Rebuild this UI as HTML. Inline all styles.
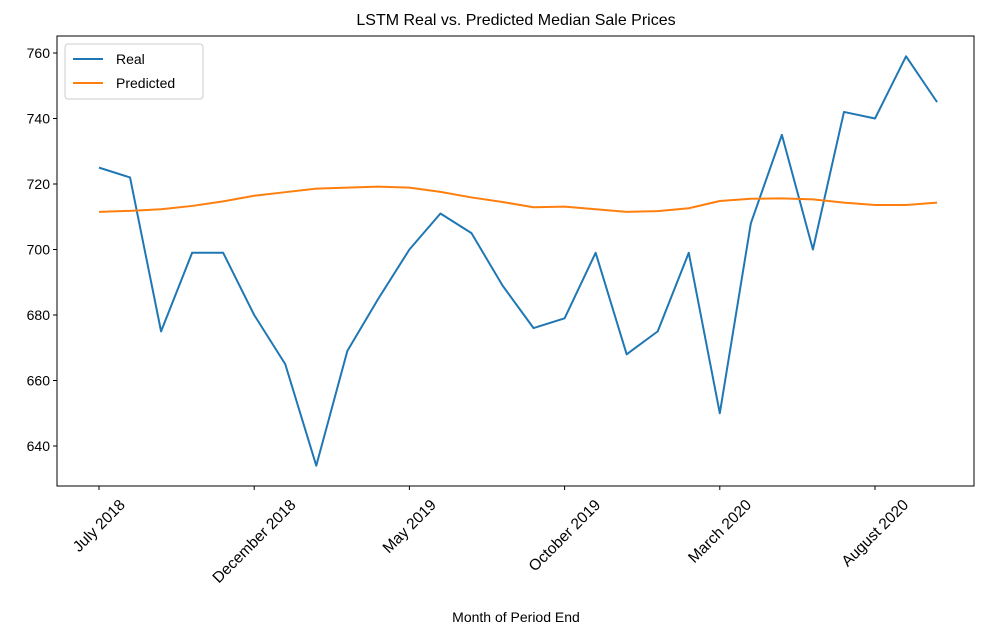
<!DOCTYPE html>
<html><head><meta charset="utf-8"><style>
body{margin:0;background:#fff;}
svg{font-family:"Liberation Sans","DejaVu Sans",sans-serif;}
</style></head><body>
<svg id="chart" width="994" height="633">
<text x="516" y="25" text-anchor="middle" font-size="16" fill="#000">LSTM Real vs. Predicted Median Sale Prices</text>
<g id="grid"></g>
<rect x="57" y="36" width="917" height="450" fill="none" stroke="#000" stroke-width="1"/>
<g id="series"></g>
<text x="516" y="622" text-anchor="middle" font-size="14" fill="#000">Month of Period End</text>
<g>
<rect x="65" y="44" width="138" height="55" rx="3" fill="#fff" stroke="#ccc"/>
<line x1="73" y1="59" x2="103" y2="59" stroke="#1f77b4" stroke-width="2"/>
<text x="116" y="64" font-size="14">Real</text>
<line x1="73" y1="83" x2="103" y2="83" stroke="#ff7f0e" stroke-width="2"/>
<text x="116" y="88" font-size="14">Predicted</text>
</g>
</svg>
<script>
const realValues=[725,722,675,699,699,680,665,634,669,685,700,711,705,689,676,679,699,668,675,699,650,708,735,700,742,740,759,745];
const predictedValues=[711.5,711.8,712.3,713.3,714.7,716.4,717.5,718.6,718.9,719.2,718.9,717.6,715.9,714.5,712.9,713.1,712.3,711.5,711.7,712.6,714.8,715.5,715.6,715.3,714.3,713.6,713.6,714.3];
const yTicks=[640,660,680,700,720,740,760];
const xTickIndex=[0,5,10,15,20,25];
const xTickLabels=["July 2018","December 2018","May 2019","October 2019","March 2020","August 2020"];
const NS="http://www.w3.org/2000/svg";
function xs(i){return 99+i*31.04;}
function ys(v){return 446-(v-640)*(393/120);}
const g=document.getElementById('grid');
function mk(t,a,p){const e=document.createElementNS(NS,t);for(const k in a)e.setAttribute(k,a[k]);p.appendChild(e);return e;}
yTicks.forEach(v=>{
 const y=ys(v);
 const l=mk('line',{x1:53,x2:57,y1:y,y2:y,stroke:'#000'},g);
 
 
 const t=mk('text',{x:50,y:y+5,'text-anchor':'end','font-size':14},g);
 
 
 t.textContent=v;
});
xTickIndex.forEach((i,k)=>{
 const x=xs(i);
 const l=mk('line',{x1:x,x2:x,y1:486,y2:490,stroke:'#000'},g);
 
 
 const t=mk('text',{x:0,y:5,'text-anchor':'middle','font-size':15.5},g);
 
 
 t.textContent=xTickLabels[k];
 const w=t.getComputedTextLength();
 const half=(w+15)*0.7071/2;
 t.setAttribute('transform',`translate(${x},${497+half}) rotate(-45)`);
});
const s=document.getElementById('series');
function line(vals,color,name){
 const p=mk('polyline',{points:vals.map((v,i)=>xs(i)+','+ys(v)).join(' '),fill:'none',stroke:color,'stroke-width':2,'stroke-linejoin':'round'},s);
 
 
}
line(realValues,'#1f77b4','real-line');
line(predictedValues,'#ff7f0e','predicted-line');
</script>
</body></html>
